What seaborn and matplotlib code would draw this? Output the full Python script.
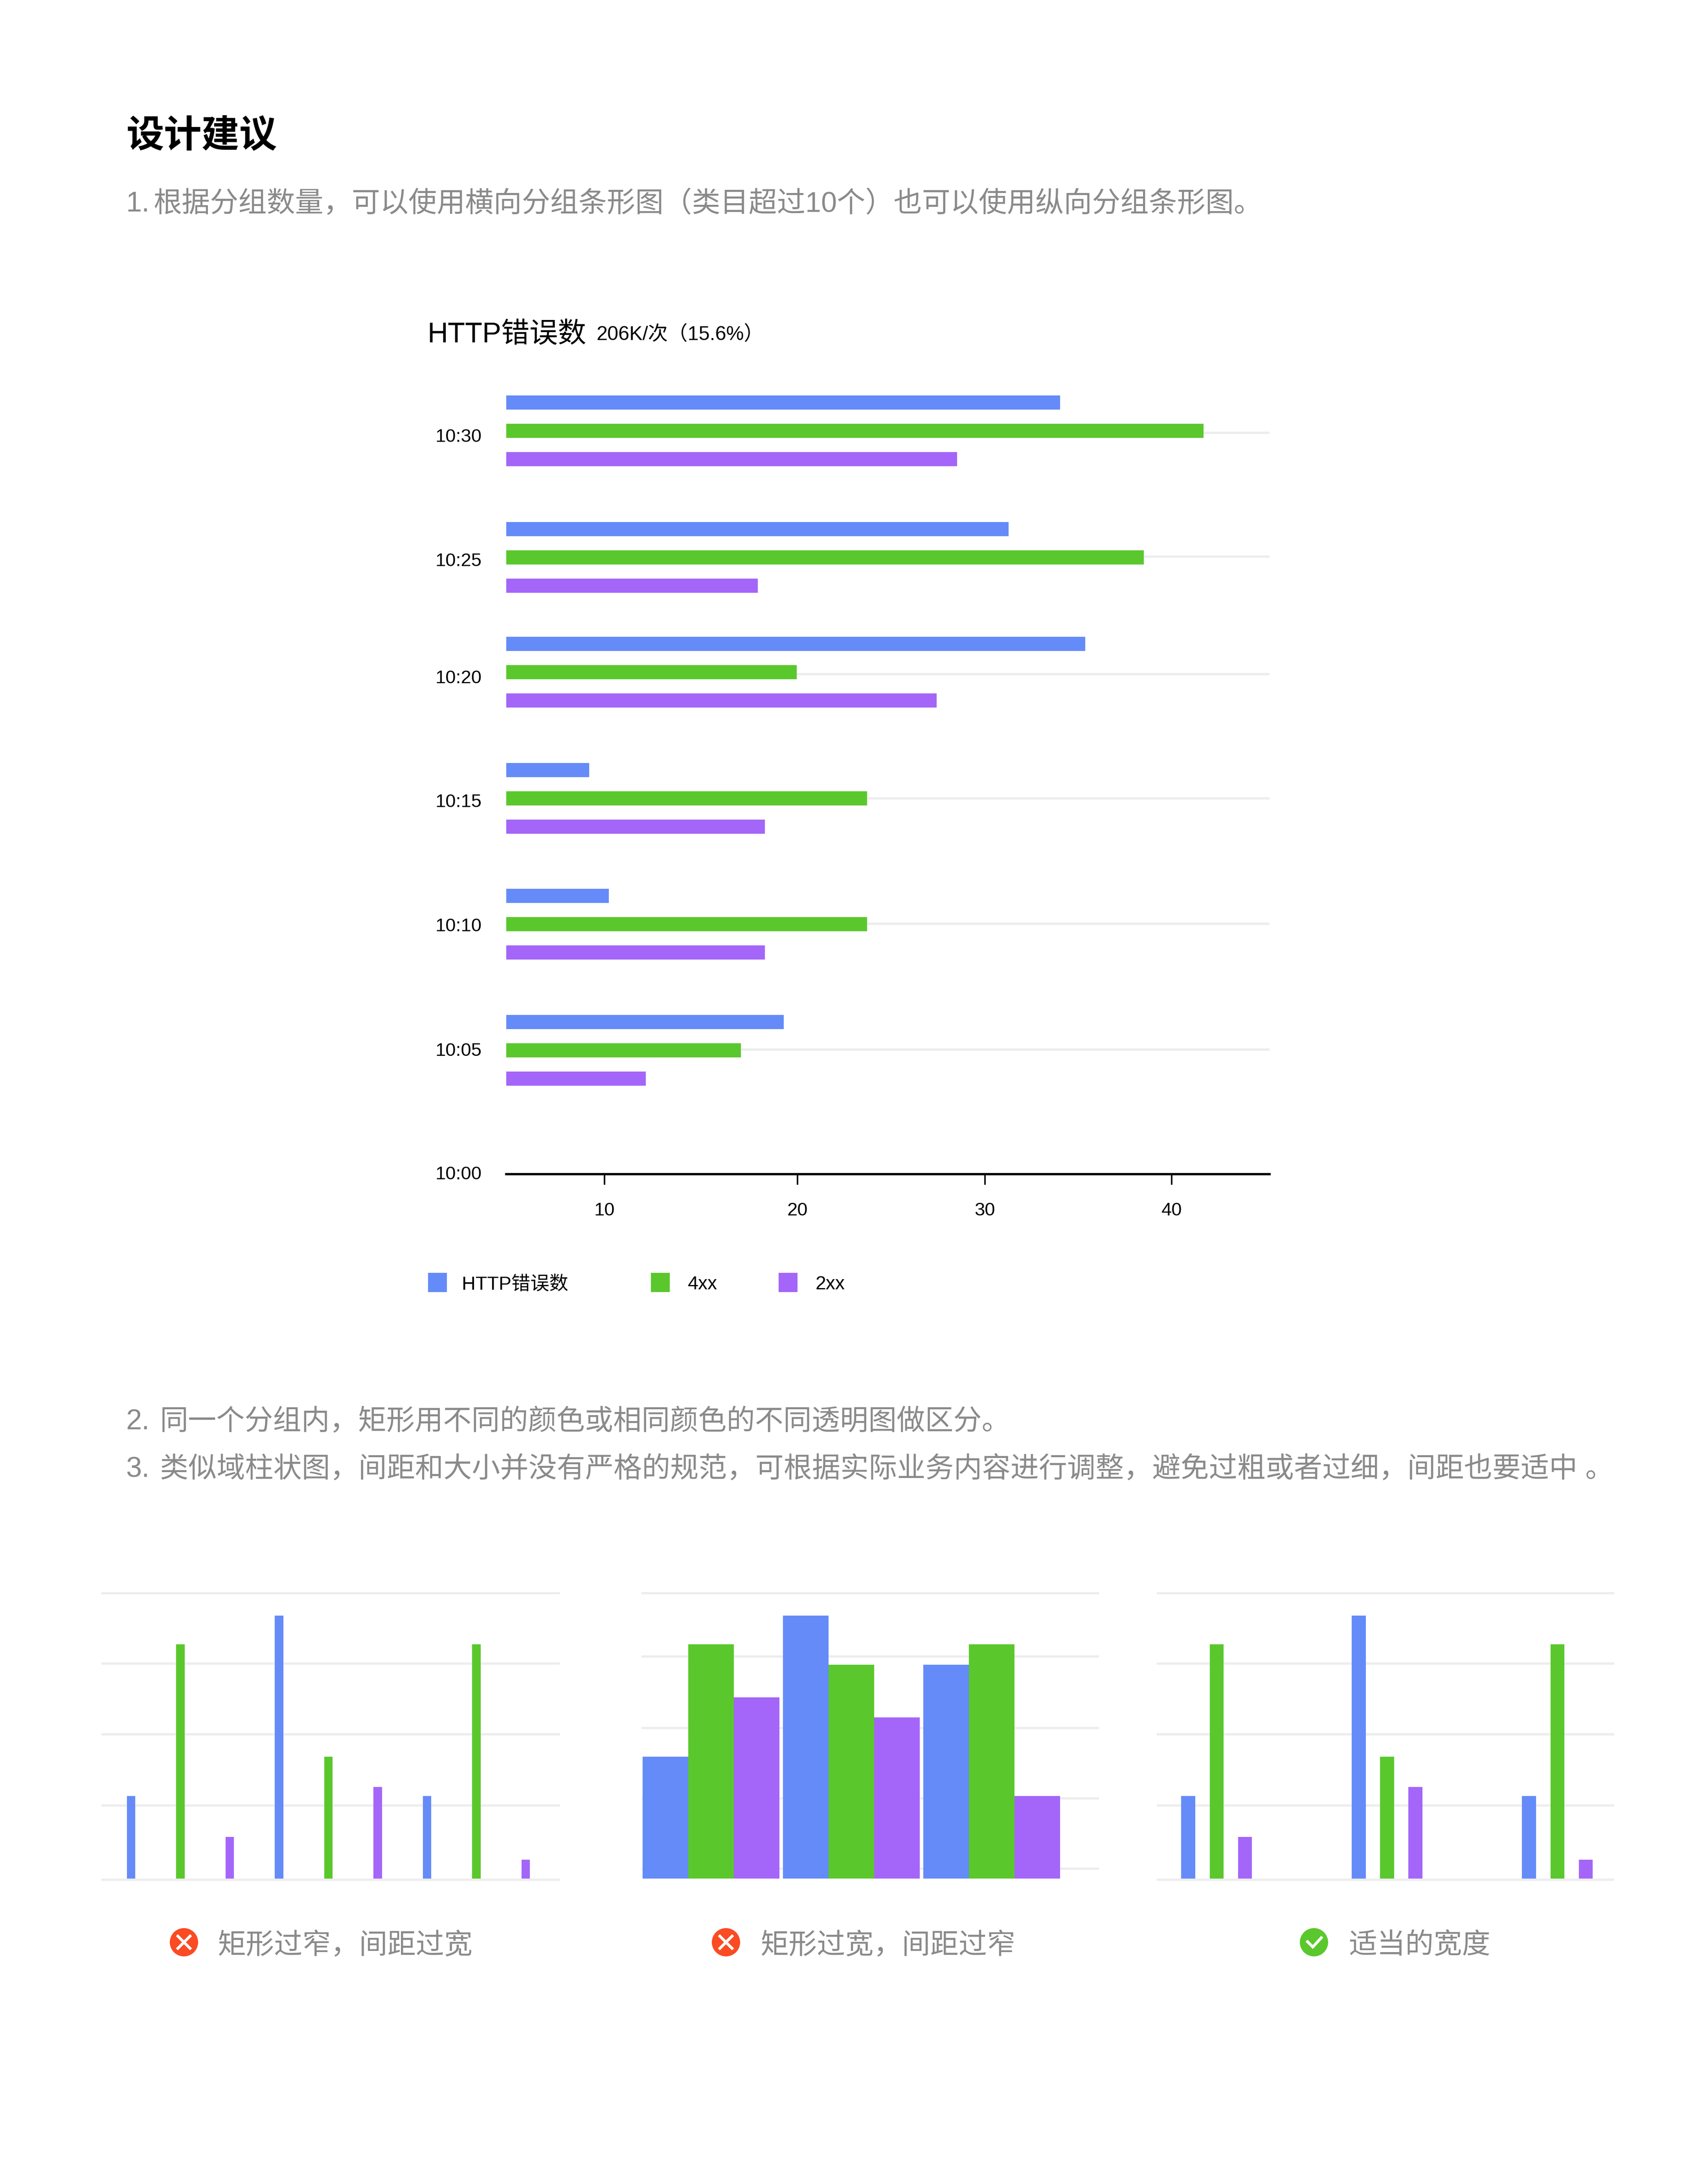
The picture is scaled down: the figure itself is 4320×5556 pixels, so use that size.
import numpy as np
import pandas as pd
import matplotlib
matplotlib.use("Agg")
import matplotlib.pyplot as plt
from matplotlib.patches import Circle, Rectangle
import seaborn as sns

# Main chart data (minutes after 10:00)
time_labels = ["10:30", "10:25", "10:20", "10:15", "10:10", "10:05", "10:00"]
bar_minutes = [30.06, 24.94, 20.30, 15.20, 10.11, 5.01]
label_minutes = [29.89, 24.86, 20.13, 15.12, 10.10, 5.06, 0.06]
grid_minutes = [29.98, 24.98, 20.22, 15.20, 10.13, 5.04]
http_errors = [34.1, 31.37, 35.43, 9.19, 10.23, 19.48]
errors_4xx = [41.68, 38.52, 20.17, 23.89, 23.89, 17.21]
errors_2xx = [28.65, 18.11, 27.57, 18.48, 18.48, 12.18]
x_tick_values = [10, 20.2, 30.12, 40]
x_tick_labels = ["10", "20", "30", "40"]

# Small example charts
group_names = ["a", "b", "c"]
thin_blue = [11.5, 36.7, 11.5]
thin_green = [32.7, 17.0, 32.7]
thin_purple = [5.8, 12.8, 2.65]
wide_blue = [17.0, 36.7, 29.8]
wide_green = [32.7, 29.8, 32.7]
wide_purple = [25.3, 22.5, 11.5]
grid_values_thin = [-0.15, 10.2, 20.1, 30.0, 39.8]
grid_values_wide = [1.35, 11.2, 21.0, 31.0, 39.8]

series_names = ["HTTP错误数", "4xx", "2xx"]
colors = {"HTTP错误数": "#648BF8", "4xx": "#5AC82D", "2xx": "#A466F8"}

heading = "设计建议"
note_numbers = ["1.", "2.", "3."]
note_bodies = [
    "根据分组数量，可以使用横向分组条形图（类目超过10个）也可以使用纵向分组条形图。",
    "同一个分组内，矩形用不同的颜色或相同颜色的不同透明图做区分。",
    "类似域柱状图，间距和大小并没有严格的规范，可根据实际业务内容进行调整，避免过粗或者过细，间距也要适中 。",
]
chart_title = "HTTP错误数"
chart_subtitle = "206K/次（15.6%）"
captions = ["矩形过窄，间距过宽", "矩形过宽，间距过窄", "适当的宽度"]

W, H = 4320, 5556
GREY = "#8A8A8A"
GRID = "#EDEDED"
RED = "#FA4B23"

sns.set_theme(style="white")
plt.rcParams["font.family"] = ["Liberation Sans", "Noto Sans CJK SC"]

fig = plt.figure(figsize=(W / 300, H / 300), dpi=300, facecolor="white")


def px_axes(left, top, right, bottom):
    ax = fig.add_axes([left / W, 1 - bottom / H, (right - left) / W, (bottom - top) / H])
    ax.patch.set_alpha(0)
    return ax


# Page layer in pixel coordinates, for text, legend swatches and icons
page = px_axes(0, 0, W, H)
page.set_xlim(0, W)
page.set_ylim(H, 0)
page.axis("off")

page.text(322, 348, heading, fontsize=23, fontweight="bold", color="black", va="center")
for number, body, body_x, text_y in zip(note_numbers, note_bodies, [390, 407, 407], [520, 3618, 3738]):
    page.text(320, text_y, number, fontsize=17.3, color=GREY, va="center")
    page.text(body_x, text_y, body, fontsize=17.3, color=GREY, va="center")
page.text(1087, 852, chart_title, fontsize=17.3, color="black", va="center")
page.text(1518, 850, chart_subtitle, fontsize=12.1, color="black", va="center")

for name, swatch_x, text_x in zip(series_names, [1089, 1656, 1981], [1175, 1750, 2075]):
    page.add_patch(Rectangle((swatch_x, 3238), 48, 49, color=colors[name], lw=0))
    page.text(text_x, 3268, name, fontsize=11.6, color="black", va="center")

# Main grouped bar chart
main_df = pd.DataFrame({
    "minute": bar_minutes * 3,
    "value": http_errors + errors_4xx + errors_2xx,
    "series": np.repeat(series_names, len(bar_minutes)),
})
min_per_px = 1 / 62.9
group_span = 3 * 72 * min_per_px
ax = px_axes(1288, 960, 3230, 2987)
sns.barplot(
    data=main_df, x="value", y="minute", hue="series", hue_order=series_names[::-1],
    orient="y", native_scale=True, palette=colors, saturation=1, errorbar=None,
    width=group_span / np.diff(sorted(bar_minutes)).min(), gap=0.5, linewidth=0,
    legend=False, ax=ax,
)
ax.set_xlim(10 + (1288 - 1538) / 48.1, 10 + (3230 - 1538) / 48.1)
ax.set_ylim(0, 2027 * min_per_px)
ax.set_xlabel("")
ax.set_ylabel("")
ax.set_xticks(x_tick_values, labels=x_tick_labels)
ax.set_yticks(label_minutes, labels=time_labels)
ax.set_yticks(grid_minutes, minor=True)
ax.set_axisbelow(True)
ax.grid(False)
ax.grid(True, which="minor", axis="y", color=GRID, lw=1.4)
sns.despine(ax=ax, left=True)
ax.spines["bottom"].set_color("black")
ax.spines["bottom"].set_linewidth(1.4)
ax.tick_params(axis="x", length=6.4, width=0.9, color="black", pad=10.7, labelsize=11.3, labelcolor="black", bottom=True)
ax.tick_params(axis="y", which="both", length=0, pad=43.4, labelsize=11.3, labelcolor="black")
for label in ax.get_yticklabels():
    label.set_ha("left")


# Three small examples of bar width and spacing
def small_panel(left, right, zero_px, pitch_px, blue, green, purple, grid_values, width, gap):
    df = pd.DataFrame({
        "group": group_names * 3,
        "value": blue + green + purple,
        "series": np.repeat(series_names, 3),
    })
    panel = px_axes(left, 4030, right, 4795)
    sns.barplot(
        data=df, x="group", y="value", hue="series", order=group_names, hue_order=series_names,
        palette=colors, saturation=1, errorbar=None, width=width, gap=gap, linewidth=0,
        legend=False, ax=panel,
    )
    panel.set_xlim((left - zero_px) / pitch_px, (right - zero_px) / pitch_px)
    panel.set_ylim((4779 - 4795) / 18.24, (4779 - 4030) / 18.24)
    panel.set_xlabel("")
    panel.set_ylabel("")
    panel.set_xticks([])
    panel.set_yticks(grid_values, labels=[""] * len(grid_values))
    panel.set_axisbelow(True)
    panel.grid(True, axis="y", color=GRID, lw=1.4)
    panel.tick_params(length=0)
    sns.despine(ax=panel, left=True, bottom=True)


small_panel(258, 1425, 459, 376.5, thin_blue, thin_green, thin_purple, grid_values_thin, 1.0, 0.832)
small_panel(1632, 2796, 1809, 357, wide_blue, wide_green, wide_purple, grid_values_wide, 0.975, 0)
small_panel(2943, 4107, 3095.4, 433.5, thin_blue, thin_green, thin_purple, grid_values_thin, 0.4994, 0.505)

# Caption icons
for icon_x, text_x, caption, ok in zip([468, 1847, 3343], [553, 1934, 3431], captions, [False, False, True]):
    page.add_patch(Circle((icon_x, 4941), 36, color=colors["4xx"] if ok else RED, lw=0))
    if ok:
        page.plot([icon_x - 19, icon_x - 3, icon_x + 21], [4937, 4953, 4927], color="white", lw=1.7,
                  solid_capstyle="butt", solid_joinstyle="miter")
    else:
        for sign in (1, -1):
            page.plot([icon_x - 18, icon_x + 18], [4941 - 18 * sign, 4941 + 18 * sign], color="white", lw=1.7,
                      solid_capstyle="butt")
    page.text(text_x, 4950, caption, fontsize=17.3, color=GREY, va="center")

page.set_xlim(0, W)
page.set_ylim(H, 0)

fig.savefig("out.png", dpi=300, facecolor="white")
